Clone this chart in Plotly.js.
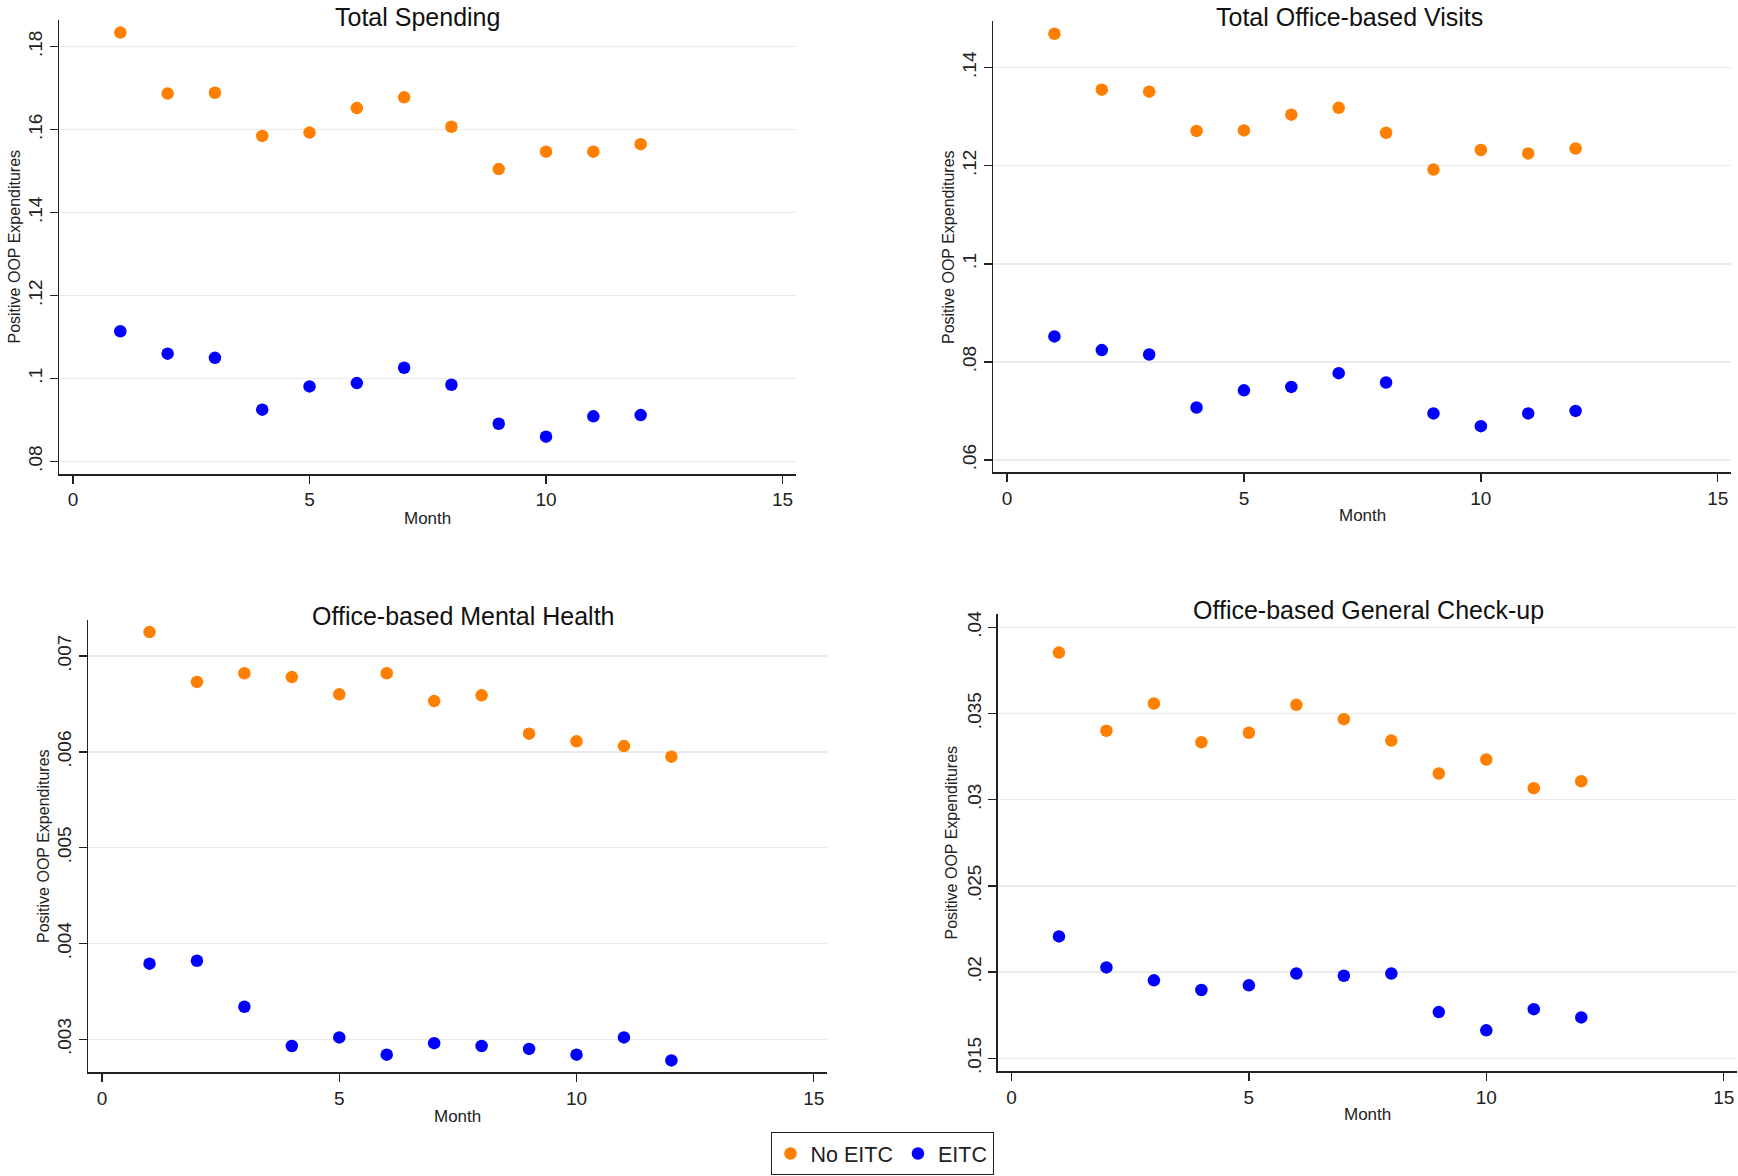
<!DOCTYPE html>
<html>
<head>
<meta charset="utf-8">
<script src="https://cdn.plot.ly/plotly-3.0.1.min.js"></script>
<style>
  html, body { margin: 0; padding: 0; background: #ffffff; }
  #chart { width: 1738px; height: 1176px; }
</style>
</head>
<body>
<div id="chart"></div>
<script>
// ---------------- data ----------------
const months = [1, 2, 3, 4, 5, 6, 7, 8, 9, 10, 11, 12];

const seriesNames = ['No EITC', 'EITC'];

const panelTitles = [
  'Total Spending',
  'Total Office-based Visits',
  'Office-based Mental Health',
  'Office-based General Check-up'
];

const yAxisLabel = 'Positive OOP Expenditures';
const xAxisLabel = 'Month';

const spendNoEITC = [0.1834, 0.1687, 0.1689, 0.1585, 0.1593, 0.1652, 0.1678, 0.1607, 0.1505, 0.1547, 0.1547, 0.1565];
const spendEITC   = [0.1114, 0.1060, 0.1050, 0.0925, 0.0981, 0.0989, 0.1026, 0.0985, 0.0891, 0.0860, 0.0909, 0.0912];

const visitsNoEITC = [0.1469, 0.1355, 0.1351, 0.1271, 0.1272, 0.1304, 0.1318, 0.1267, 0.1192, 0.1232, 0.1225, 0.1235];
const visitsEITC   = [0.0852, 0.0824, 0.0815, 0.0707, 0.0742, 0.0749, 0.0777, 0.0758, 0.0695, 0.0669, 0.0695, 0.0700];

const mentalNoEITC = [0.00725, 0.00673, 0.00682, 0.00678, 0.00660, 0.00682, 0.00653, 0.00659, 0.00619, 0.00611, 0.00606, 0.00595];
const mentalEITC   = [0.00379, 0.00382, 0.00334, 0.00293, 0.00302, 0.00284, 0.00296, 0.00293, 0.00290, 0.00284, 0.00302, 0.00278];

const checkupNoEITC = [0.03853, 0.03400, 0.03558, 0.03333, 0.03388, 0.03550, 0.03467, 0.03343, 0.03152, 0.03233, 0.03067, 0.03107];
const checkupEITC   = [0.02207, 0.02027, 0.01952, 0.01896, 0.01923, 0.01992, 0.01979, 0.01992, 0.01768, 0.01662, 0.01785, 0.01737];

const xTickVals = [0, 5, 10, 15];
const xTickText = ['0', '5', '10', '15'];

const yTickVals1 = [0.08, 0.10, 0.12, 0.14, 0.16, 0.18];
const yTickText1 = ['.08', '.1', '.12', '.14', '.16', '.18'];
const yTickVals2 = [0.06, 0.08, 0.10, 0.12, 0.14];
const yTickText2 = ['.06', '.08', '.1', '.12', '.14'];
const yTickVals3 = [0.003, 0.004, 0.005, 0.006, 0.007];
const yTickText3 = ['.003', '.004', '.005', '.006', '.007'];
const yTickVals4 = [0.015, 0.02, 0.025, 0.03, 0.035, 0.04];
const yTickText4 = ['.015', '.02', '.025', '.03', '.035', '.04'];

// ---------------- styling / layout ----------------
const W = 1738, H = 1176;
const FONT = 'Liberation Sans, Arial, sans-serif';
const colNo = '#ff7f00';
const colYes = '#0000ff';

const panels = [
  { no: spendNoEITC,   yes: spendEITC,   tv: yTickVals1, tt: yTickText1,
    px: [59.3, 795.8], py: [20, 474],     yr: [0.07699, 0.18644],
    title: [417.6, 17], ylab: [14.5, 247], xlab: [427.5, 518] },
  { no: visitsNoEITC,  yes: visitsEITC,  tv: yTickVals2, tt: yTickText2,
    px: [993.3, 1731], py: [21.4, 472.3], yr: [0.05749, 0.14942],
    title: [1349.5, 17], ylab: [949, 247], xlab: [1362, 515.5] },
  { no: mentalNoEITC,  yes: mentalEITC,  tv: yTickVals3, tt: yTickText3,
    px: [88.3, 827],   py: [619.6, 1072.3], yr: [0.002656, 0.00738],
    title: [463, 615.5], ylab: [43, 846], xlab: [457.6, 1116] },
  { no: checkupNoEITC, yes: checkupEITC, tv: yTickVals4, tt: yTickText4,
    px: [997.7, 1737], py: [614, 1071.3], yr: [0.014246, 0.04077],
    title: [1368.3, 610], ylab: [951, 842.5], xlab: [1367, 1114] }
];

const traces = [];
const layout = {
  width: W, height: H,
  margin: { l: 0, r: 0, t: 0, b: 0, pad: 0 },
  paper_bgcolor: '#ffffff',
  plot_bgcolor: '#ffffff',
  font: { family: FONT, color: '#111111' },
  showlegend: true,
  legend: {
    orientation: 'h',
    x: 882 / W, xanchor: 'center',
    y: 1 / H, yanchor: 'bottom',
    bordercolor: '#222222', borderwidth: 1,
    bgcolor: '#ffffff',
    font: { family: FONT, size: 21.5, color: '#222222' },
    itemwidth: 30
  },
  annotations: []
};

panels.forEach((p, i) => {
  const n = i + 1;
  const xa = n === 1 ? 'x' : 'x' + n;
  const ya = n === 1 ? 'y' : 'y' + n;
  traces.push({
    x: months, y: p.no, xaxis: xa, yaxis: ya, type: 'scatter', mode: 'markers',
    name: seriesNames[0], legendgroup: 'no', showlegend: i === 0,
    marker: { color: colNo, size: 12.5 }
  });
  traces.push({
    x: months, y: p.yes, xaxis: xa, yaxis: ya, type: 'scatter', mode: 'markers',
    name: seriesNames[1], legendgroup: 'yes', showlegend: i === 0,
    marker: { color: colYes, size: 12.5 }
  });

  layout['xaxis' + (n === 1 ? '' : n)] = {
    domain: [p.px[0] / W, p.px[1] / W],
    anchor: ya,
    range: [-0.29, 15.28],
    tickmode: 'array', tickvals: xTickVals, ticktext: xTickText,
    ticks: 'outside', ticklen: 8, tickwidth: 1.5, tickcolor: '#222222',
    showline: true, linecolor: '#222222', linewidth: 1.5,
    showgrid: false, zeroline: false,
    tickfont: { family: FONT, size: 19, color: '#222222' },
    ticklabelstandoff: 0,
    fixedrange: true
  };
  layout['yaxis' + (n === 1 ? '' : n)] = {
    domain: [1 - p.py[1] / H, 1 - p.py[0] / H],
    anchor: xa,
    range: p.yr,
    tickmode: 'array', tickvals: p.tv, ticktext: p.tt,
    tickangle: -90,
    ticks: 'outside', ticklen: 8, tickwidth: 1.5, tickcolor: '#222222',
    showline: true, linecolor: '#222222', linewidth: 1.5,
    showgrid: true, gridcolor: '#ebebeb', gridwidth: 1.5,
    zeroline: false,
    tickfont: { family: FONT, size: 19, color: '#222222' },
    ticklabelstandoff: 0,
    fixedrange: true
  };

  layout.annotations.push({
    text: panelTitles[i], xref: 'paper', yref: 'paper',
    x: p.title[0] / W, y: 1 - p.title[1] / H,
    xanchor: 'center', yanchor: 'middle', showarrow: false,
    font: { family: FONT, size: 25, color: '#111111' }
  });
  layout.annotations.push({
    text: yAxisLabel, xref: 'paper', yref: 'paper',
    x: p.ylab[0] / W, y: 1 - p.ylab[1] / H, textangle: -90,
    xanchor: 'center', yanchor: 'middle', showarrow: false,
    font: { family: FONT, size: 16, color: '#222222' }
  });
  layout.annotations.push({
    text: xAxisLabel, xref: 'paper', yref: 'paper',
    x: p.xlab[0] / W, y: 1 - p.xlab[1] / H,
    xanchor: 'center', yanchor: 'middle', showarrow: false,
    font: { family: FONT, size: 17, color: '#222222' }
  });
});

Plotly.newPlot('chart', traces, layout, { displayModeBar: false, staticPlot: true });
</script>
</body>
</html>
